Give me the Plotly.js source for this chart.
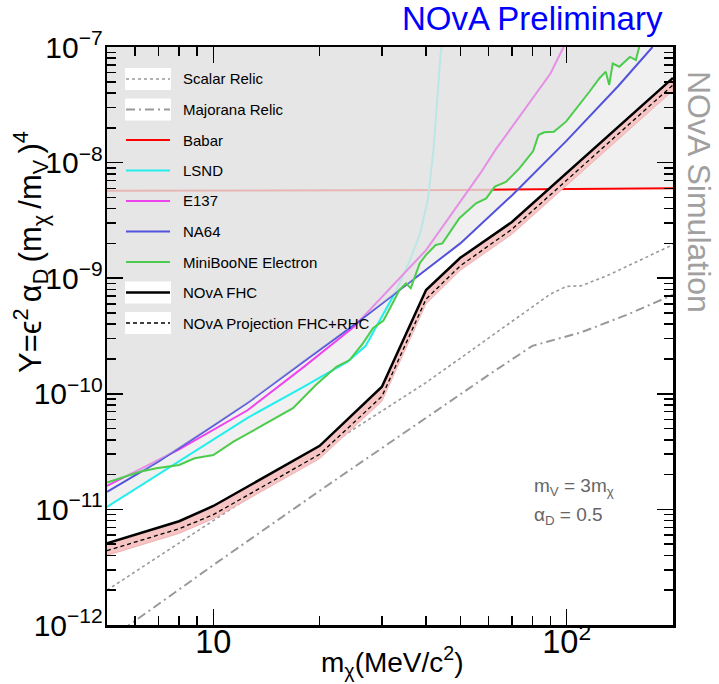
<!DOCTYPE html>
<html>
<head>
<meta charset="utf-8">
<script src="https://cdn.plot.ly/plotly-3.0.1.min.js"></script>
<style>html,body{margin:0;padding:0;background:#fff;}#plot{width:719px;height:684px;}</style>
</head>
<body>
<div id="plot"></div>
<script>
// ---------------- data ----------------
const mNOvA = [5, 8, 10, 20, 30, 40, 50, 70, 200];
const yFHC = [5.1e-12, 7.9e-12, 1.07e-11, 3.55e-11, 1.15e-10, 7.9e-10, 1.5e-9, 3.06e-9, 5.4e-8];
const yProj = [4.4e-12, 6.8e-12, 9.0e-12, 3.0e-11, 9.5e-11, 6.6e-10, 1.28e-9, 2.65e-9, 4.7e-8];
const yBandLow = [4.0e-12, 6.2e-12, 8.3e-12, 2.75e-11, 8.6e-11, 6.0e-10, 1.17e-9, 2.4e-9, 4.2e-8];

const mScalar = [5, 10, 20, 40, 60, 90, 100, 110, 130, 200];
const yScalar = [2.0e-12, 8.0e-12, 3.2e-11, 1.25e-10, 3.0e-10, 7.3e-10, 8.5e-10, 8.6e-10, 1.05e-9, 1.95e-9];

const mMajorana = [5, 10, 20, 40, 60, 80, 110, 150, 200];
const yMajorana = [7.3e-13, 3.3e-12, 1.45e-11, 6.2e-11, 1.45e-10, 2.6e-10, 3.4e-10, 4.9e-10, 7.2e-10];

const mBabar = [5, 50, 200];
const yBabar = [5.7e-9, 5.8e-9, 6.0e-9];

const mLSND = [5, 8, 12.5, 18, 24, 27, 29.5, 33, 36, 38.5, 40.5, 42, 44, 44.5];
const yLSND = [1.05e-11, 2.6e-11, 6.2e-11, 1.15e-10, 1.9e-10, 2.6e-10, 4.3e-10, 7.9e-10, 1.43e-9, 2.45e-9, 4.8e-9, 1.3e-8, 8.9e-8, 1.1e-7];

const mE137 = [5, 8, 12.5, 18, 25, 30, 40, 57, 63, 90, 98];
const yE137 = [1.6e-11, 3.3e-11, 7.2e-11, 1.7e-10, 3.8e-10, 6.9e-10, 1.75e-9, 8.1e-9, 1.3e-8, 5.9e-8, 1.0e-7];

const mNA64 = [5, 7, 10, 12.6, 18, 26, 38, 50, 70, 100, 140, 175];
const yNA64 = [1.42e-11, 2.6e-11, 5.3e-11, 8.5e-11, 1.9e-10, 4.3e-10, 1.05e-9, 2.0e-9, 5.2e-9, 1.55e-8, 4.6e-8, 1.0e-7];

const mMB = [5, 6.2, 6.9, 8.0, 8.85, 10, 11.4, 12.65, 14.1, 16.8, 19.5, 22.3, 24.3, 26.5, 28.3, 30.3, 32.5, 33.6, 35.1, 36.2, 38.4, 40, 42.6, 44.5, 49.7, 55.4, 59.2, 62.6, 67.3, 73.5, 80.4, 83.2, 86.4, 92, 99.6, 108.7, 116, 124, 129, 132, 135, 141, 151, 157, 161];
const yMB = [1.71e-11, 2.12e-11, 2.27e-11, 2.42e-11, 2.77e-11, 2.95e-11, 3.85e-11, 4.6e-11, 5.55e-11, 7.5e-11, 1.19e-10, 1.71e-10, 1.96e-10, 2.73e-10, 3.69e-10, 4.3e-10, 6.45e-10, 7.9e-10, 9.0e-10, 8.2e-10, 1.35e-9, 1.59e-9, 1.94e-9, 2.0e-9, 3.3e-9, 4.45e-9, 4.9e-9, 6.2e-9, 6.8e-9, 8.9e-9, 1.26e-8, 1.73e-8, 1.83e-8, 1.85e-8, 2.26e-8, 3.15e-8, 4.1e-8, 5.4e-8, 6.1e-8, 4.7e-8, 7.2e-8, 6.75e-8, 8.2e-8, 7.7e-8, 1.04e-7];

const legendLabels = ['Scalar Relic', 'Majorana Relic', 'Babar', 'LSND', 'E137', 'NA64', 'MiniBooNE Electron', 'NOvA FHC', 'NOvA Projection FHC+RHC'];

// ---------------- helpers ----------------
const FONT = 'Liberation Sans, Arial, Helvetica, sans-serif';
const YTOP = 1e-6; // above the visible range, used to close fills upward
function interpLog(ms, ys, m) {
  if (m < ms[0] || m > ms[ms.length - 1]) return null;
  for (let i = 0; i < ms.length - 1; i++) {
    if (m >= ms[i] && m <= ms[i + 1]) {
      const t = (Math.log(m) - Math.log(ms[i])) / (Math.log(ms[i + 1]) - Math.log(ms[i]));
      return Math.exp(Math.log(ys[i]) + t * (Math.log(ys[i + 1]) - Math.log(ys[i])));
    }
  }
  return ys[ys.length - 1];
}
function regionAbove(ms, ys, color) {
  return {
    x: ms.concat([ms[ms.length - 1], ms[0]]),
    y: ys.concat([YTOP, YTOP]),
    type: 'scatter', mode: 'lines', fill: 'toself', fillcolor: color,
    line: {width: 0, color: color}, hoverinfo: 'skip', showlegend: false
  };
}
function lineTrace(ms, ys, color, width, dash) {
  return {x: ms, y: ys, type: 'scatter', mode: 'lines',
    line: {color: color, width: width, dash: dash || 'solid'},
    hoverinfo: 'skip', showlegend: false};
}

// dark region: above both NA64 and MiniBooNE
const lo = Math.max(mNA64[0], mMB[0]);
const hi = Math.min(mNA64[mNA64.length - 1], mMB[mMB.length - 1]);
let grid = mNA64.concat(mMB).filter(v => v >= lo && v <= hi);
for (let k = 0; k <= 300; k++) grid.push(lo * Math.pow(hi / lo, k / 300));
grid = Array.from(new Set(grid)).sort((a, b) => a - b);
const darkY = grid.map(m => Math.max(interpLog(mNA64, yNA64, m), interpLog(mMB, yMB, m)));
function darkLayer(color) {
  return {
    x: grid.concat([hi, lo]), y: darkY.concat([YTOP, YTOP]),
    type: 'scatter', mode: 'lines', fill: 'toself', fillcolor: color,
    line: {width: 0}, hoverinfo: 'skip', showlegend: false
  };
}

const LIGHT = '#f0f0f0';
const traces = [
  regionAbove(mLSND, yLSND, LIGHT),
  regionAbove(mE137, yE137, LIGHT),
  regionAbove(mNA64, yNA64, LIGHT),
  regionAbove(mMB, yMB, LIGHT),
  regionAbove(mBabar, yBabar, LIGHT),
  lineTrace(mBabar, yBabar, '#ff0000', 2),
  lineTrace(mLSND, yLSND, '#22eeee', 2),
  darkLayer('rgba(240,240,240,0.6)'),
  lineTrace(mE137, yE137, '#ee44ee', 2),
  lineTrace(mNA64, yNA64, '#5252dc', 2),
  darkLayer('rgba(220,220,220,0.5)'),
  lineTrace(mMB, yMB, '#4ccc4c', 2),
  lineTrace(mScalar, yScalar, '#999999', 1.6, 'dot'),
  lineTrace(mMajorana, yMajorana, '#999999', 2, '9px,4px,2px,4px'),
  {
    x: mNOvA.concat(mNOvA.slice().reverse()),
    y: yFHC.concat(yBandLow.slice().reverse()),
    type: 'scatter', mode: 'lines', fill: 'toself', fillcolor: '#f7c4c4',
    line: {width: 0.8, color: '#eeaaaa'}, hoverinfo: 'skip', showlegend: false
  },
  lineTrace(mNOvA, yProj, '#000000', 1.3, '4px,3px'),
  lineTrace(mNOvA, yFHC, '#000000', 2.5)
];

// ---------------- layout ----------------
const L = 107, R = 673, T = 47, B = 625;
const px = v => (v - L) / (R - L);
const py = v => (B - v) / (B - T);

const shapes = [];
const annotations = [];
const legendStyles = [
  {color: '#999999', dash: 'dot', width: 1.6, box: true},
  {color: '#999999', dash: '9px,4px,2px,4px', width: 2, box: true},
  {color: '#ff0000', dash: 'solid', width: 2, box: false},
  {color: '#22eeee', dash: 'solid', width: 2, box: false},
  {color: '#ee44ee', dash: 'solid', width: 2, box: false},
  {color: '#5252dc', dash: 'solid', width: 2, box: false},
  {color: '#4ccc4c', dash: 'solid', width: 2, box: false},
  {color: '#000000', dash: 'solid', width: 2.5, box: true},
  {color: '#000000', dash: '4px,3px', width: 1.3, box: true}
];
legendLabels.forEach((lab, i) => {
  const yc = 79 + 30.5 * i;
  const st = legendStyles[i];
  if (st.box) {
    shapes.push({type: 'rect', xref: 'paper', yref: 'paper', x0: px(125), x1: px(171), y0: py(yc - 11), y1: py(yc + 11),
      fillcolor: '#ffffff', line: {width: 0}, layer: 'above'});
  }
  shapes.push({type: 'line', xref: 'paper', yref: 'paper', x0: px(126), x1: px(170), y0: py(yc), y1: py(yc),
    line: {color: st.color, width: st.width, dash: st.dash}, layer: 'above'});
  annotations.push({xref: 'paper', yref: 'paper', x: px(181), y: py(yc), xanchor: 'left', yanchor: 'middle',
    text: lab, showarrow: false, font: {family: FONT, size: 15, color: '#000'}});
});

const TS = '\u2009';
annotations.push(
  {xref: 'paper', yref: 'paper', x: px(532), y: py(18), xanchor: 'center', yanchor: 'middle',
   text: 'NOvA Preliminary', showarrow: false, font: {family: FONT, size: 33, color: '#0000ff'}},
  {xref: 'paper', yref: 'paper', x: px(699), y: py(192), xanchor: 'center', yanchor: 'middle', textangle: 90,
   text: 'NOvA Simulation', showarrow: false, font: {family: FONT, size: 32, color: '#a0a0a0'}},
  {xref: 'paper', yref: 'paper', x: px(30), y: py(252), xanchor: 'center', yanchor: 'middle', textangle: -90,
   text: 'Y=ϵ<sup>2</sup>' + TS + 'α<sub>D</sub>' + TS + '(m<sub>χ</sub>' + TS + '/m<sub>V</sub>' + TS + ')<sup>4</sup>', showarrow: false,
   font: {family: FONT, size: 31, color: '#000'}},
  {xref: 'paper', yref: 'paper', x: px(392), y: py(662), xanchor: 'center', yanchor: 'middle',
   text: 'm<sub>χ</sub>(MeV/c<sup>2</sup>)', showarrow: false, font: {family: FONT, size: 28, color: '#000'}},
  {xref: 'paper', yref: 'paper', x: px(532), y: py(487), xanchor: 'left', yanchor: 'middle',
   text: 'm<sub>V</sub> = 3m<sub>χ</sub>', showarrow: false, font: {family: FONT, size: 19, color: '#666666'}},
  {xref: 'paper', yref: 'paper', x: px(532), y: py(516), xanchor: 'left', yanchor: 'middle',
   text: 'α<sub>D</sub> = 0.5', showarrow: false, font: {family: FONT, size: 19, color: '#666666'}}
);

const axisCommon = {
  type: 'log', dtick: 1, exponentformat: 'power', showexponent: 'all',
  ticks: 'inside', ticklen: 16, tickwidth: 1.5, tickcolor: '#000',
  showline: true, linewidth: 2.5, linecolor: '#000', mirror: 'allticks',
  showgrid: false, zeroline: false,
  minor: {ticks: 'inside', ticklen: 9, tickwidth: 1.5, tickcolor: '#000', dtick: 'D1', showgrid: false}
};

const layout = {
  width: 719, height: 684,
  margin: {l: L, r: 719 - R, t: T, b: 684 - B, pad: 0},
  paper_bgcolor: '#ffffff', plot_bgcolor: '#ffffff',
  showlegend: false,
  xaxis: Object.assign({}, axisCommon, {range: [Math.log10(5), Math.log10(200)], ticklabelstandoff: -12,
    tickfont: {family: FONT, size: 26, color: '#000'}}),
  yaxis: Object.assign({}, axisCommon, {range: [-12, -7], ticklabelstandoff: -3,
    tickfont: {family: FONT, size: 24, color: '#000'}}),
  shapes: shapes,
  annotations: annotations,
  font: {family: FONT}
};

Plotly.newPlot('plot', traces, layout, {displayModeBar: false, staticPlot: true});
</script>
</body>
</html>
